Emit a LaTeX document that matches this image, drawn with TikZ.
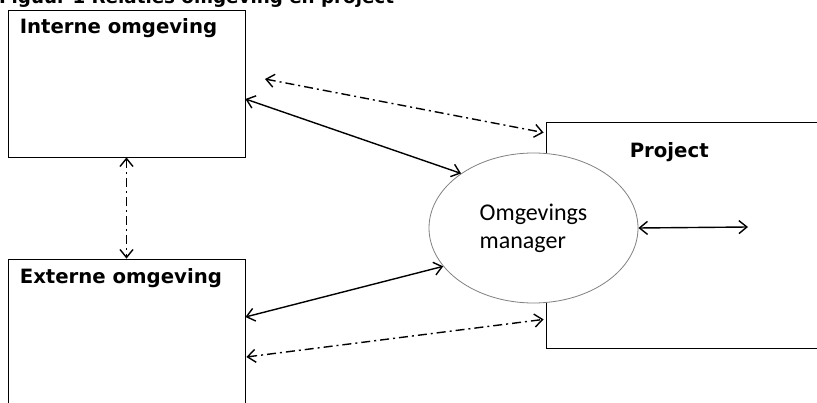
\documentclass[tikz,border=0pt]{standalone}
\usepackage{fontspec}
\setmainfont{DejaVu Sans}
\newfontfamily\calibri{Carlito}
\usetikzlibrary{shapes.geometric, arrows.meta, positioning}
\tikzstyle{box} = [draw, rectangle, inner sep=0pt, line width=0.8pt]
\tikzstyle{boxtitle} = [anchor=base west, inner sep=0pt, font=\fontsize{19.7}{23}\selectfont\bfseries]
\tikzstyle{manager} = [draw=gray, line width=0.8pt, ellipse, fill=white, minimum width=209pt, minimum height=150pt, inner sep=0pt, align=left, font=\calibri\fontsize{24}{28}\selectfont]
\tikzstyle{link} = [line width=1.4pt, {Straight Barb[length=8pt,width=13pt]}-{Straight Barb[length=8pt,width=13pt]}]
\tikzstyle{dashlink} = [link, dash pattern=on 9pt off 4pt on 2pt off 4pt]

\begin{document}
\begin{tikzpicture}[x=1pt, y=-1pt]

   % Fix the page to the size of the figure
   \useasboundingbox (0,0) rectangle (817,403);
   \clip (0,0) rectangle (817,403);

   % Caption, cut off at the top as in the source
   \node[anchor=base west, inner sep=0pt, font=\fontsize{18.3}{22}\selectfont\bfseries] (caption) at (-1,4) {Figuur 1 Relaties omgeving en project};

   % The two surroundings
   \node[box, minimum width=237pt, minimum height=147pt] (intern) at (126.5,83.5) {};
   \node[boxtitle] (interntext) at ([xshift=12pt,yshift=-24pt]intern.north west) {Interne omgeving};
   \node[box, minimum width=237pt, minimum height=170pt] (extern) at (126.5,344) {};
   \node[boxtitle] (externtext) at ([xshift=12pt,yshift=-25pt]extern.north west) {Externe omgeving};

   % The project with its manager in front
   \node[box, minimum width=300pt, minimum height=226pt] (project) at (696,235) {};
   \node[boxtitle] (projecttext) at ([xshift=84pt,yshift=-36pt]project.north west) {Project};
   \node[manager] (mgr) at (533.5,228) {Omgevings\\manager\hspace*{8pt}};

   % Relations
   \draw[link] ([yshift=-15.5pt]intern.east) -- (mgr.143.4);
   \draw[link] ([yshift=27pt]extern.east) -- (mgr.-157.4);
   \draw[dashlink] (intern.south) -- (extern.north);

   \coordinate (free1) at (265,79);
   \draw[dashlink] (free1) -- ([xshift=-2pt,yshift=-11pt]project.north west);
   \draw[dashlink] ([xshift=1pt,yshift=-13pt]extern.east) -- ([xshift=-2pt,yshift=29pt]project.south west);

   \coordinate (free2) at (748,227);
   \draw[link] (mgr.east) -- (free2);

\end{tikzpicture}
\end{document}
